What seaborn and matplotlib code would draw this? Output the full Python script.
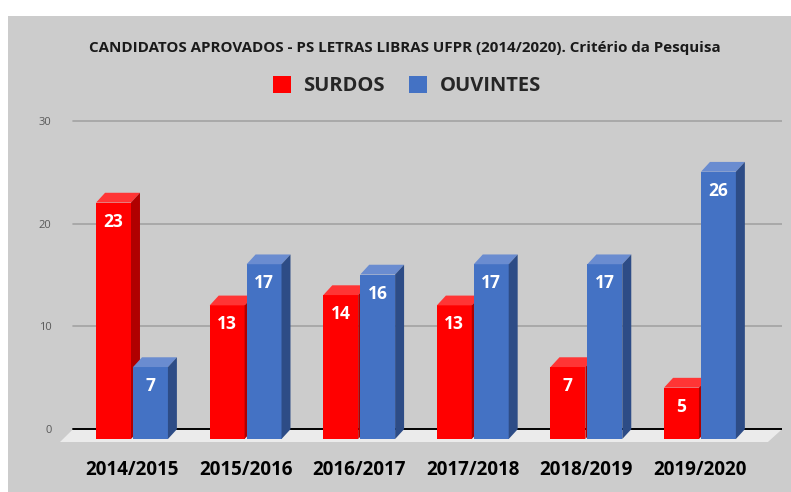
import numpy as np
import pandas as pd
import matplotlib
matplotlib.use("Agg")
import matplotlib.pyplot as plt
from matplotlib.patches import Polygon, Rectangle
import seaborn as sns

# data
periodos = ['2014/2015', '2015/2016', '2016/2017', '2017/2018', '2018/2019', '2019/2020']
surdos = [23, 13, 14, 13, 7, 5]
ouvintes = [7, 17, 16, 17, 17, 26]
grupos = ['SURDOS', 'OUVINTES']
yticks = [0, 10, 20, 30]

cores = {'SURDOS': '#ff0000', 'OUVINTES': '#4472c4'}
topo = {'SURDOS': '#ff3535', 'OUVINTES': '#6a8cd0'}
lado = {'SURDOS': '#b00000', 'OUVINTES': '#2d4c86'}

df = pd.DataFrame({
    'Periodo': periodos * 2,
    'Grupo': ['SURDOS'] * len(periodos) + ['OUVINTES'] * len(periodos),
    'Valor': surdos + ouvintes,
})

sns.set_style('white')
plt.rcParams['font.family'] = ['Open Sans', 'DejaVu Sans']

W, H = 791, 492
fig = plt.figure(figsize=(W / 100, H / 100), dpi=100, facecolor='white')
fig.patches.append(Rectangle((8 / W, 0), 1, (H - 16) / H, transform=fig.transFigure,
                             facecolor='#cccccc', edgecolor='none', zorder=-10))

ax = fig.add_axes([60 / W, 50 / H, 722 / W, 332 / H])
ax.set_facecolor('none')
ax.set_zorder(1)

sns.barplot(data=df, x='Periodo', y='Valor', hue='Grupo', palette=cores,
            width=0.65, gap=0.055, ax=ax, saturation=1, zorder=3,
            linewidth=0, edgecolor='none')
ax.get_legend().remove()

ax.set_xlim(-0.634, 5.722)
ax.set_ylim(-0.29, 32.0)

dx, dy = 0.079, 0.95

# floor of the 3d chart
ax.add_patch(Polygon([(-0.634, -0.29), (5.598, -0.29), (5.722, dy), (-0.52, dy)],
                     closed=True, facecolor='#ebebeb', edgecolor='none', zorder=1))

# back wall grid
for v in yticks:
    ax.plot([-0.52, 5.722], [v + dy, v + dy], color='black' if v == 0 else '#a3a3a3',
            lw=1.4 if v == 0 else 1.2, zorder=1.5)

# 3d faces for each bar
for k, (cont, g) in enumerate(zip(ax.containers, grupos)):
    for bar in cont:
        x0 = bar.get_x()
        x1 = x0 + bar.get_width()
        h = bar.get_height()
        bar.set_zorder(3 + k)
        ax.add_patch(Polygon([(x0, h), (x1, h), (x1 + dx, h + dy), (x0 + dx, h + dy)],
                             closed=True, facecolor=topo[g], edgecolor='none', zorder=3 + k))
        ax.add_patch(Polygon([(x1, 0), (x1 + dx, dy), (x1 + dx, h + dy), (x1, h)],
                             closed=True, facecolor=lado[g], edgecolor='none', zorder=3 + k))
        ax.annotate(f'{h:.0f}', (x0 + bar.get_width() / 2, h), xytext=(0, -19),
                    textcoords='offset pixels', ha='center', va='center',
                    color='white', fontsize=12.5, fontweight='bold', zorder=5)

ax.set_yticks([v + dy for v in yticks], [str(v) for v in yticks])
ax.tick_params(axis='y', length=0, pad=6, labelsize=8, labelcolor='#595959')
ax.tick_params(axis='x', length=0, pad=13)
for lab in ax.get_xticklabels():
    lab.set_fontsize(13.5)
    lab.set_fontweight('bold')
    lab.set_color('black')
ax.set_xlabel('')
ax.set_ylabel('')
sns.despine(ax=ax, left=True, bottom=True)

fig.text(405 / W, (H - 48) / H,
         'CANDIDATOS APROVADOS - PS LETRAS LIBRAS UFPR (2014/2020). Critério da Pesquisa',
         ha='center', va='center', fontsize=10.9, fontweight='bold', color='#1a1a1a')

handles = [Rectangle((0, 0), 1, 1, facecolor=cores[g], edgecolor='none') for g in grupos]
fig.legend(handles, grupos, loc='center', bbox_to_anchor=(407 / W, (H - 86) / H),
           ncol=2, frameon=False, prop={'size': 14.5, 'weight': 'bold'},
           labelcolor='#262626', handlelength=0.9, handleheight=0.9,
           handletextpad=0.6, columnspacing=1.2)

fig.savefig('out.png', dpi=100)
